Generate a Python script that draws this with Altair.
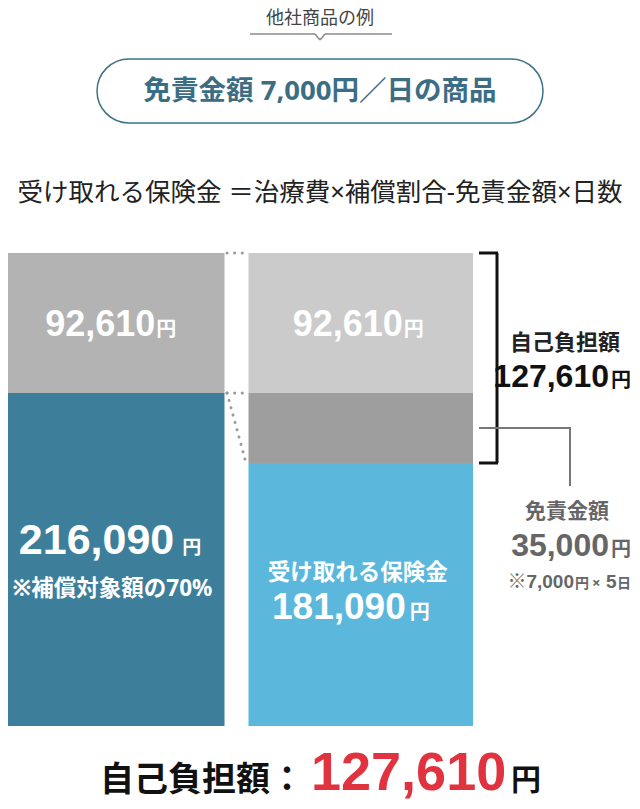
import altair as alt
import pandas as pd

# ---------------- data ----------------
bars = ["治療費の内訳", "保険金の内訳"]
seg_bar = [bars[0], bars[0], bars[1], bars[1], bars[1]]
seg_key = ["補償対象額", "自己負担（左）", "受け取れる保険金", "免責金額", "自己負担（右）"]
seg_value = [216090, 92610, 181090, 35000, 92610]
seg_order = [0, 1, 0, 1, 2]
seg_colors = ["#3d7f9b", "#b3b3b3", "#5bb8dc", "#9e9e9e", "#cbcbcb"]

daily_deductible = 7000
days = 5
benefit = 181090
deductible = daily_deductible * days
self_pay = 92610
self_total = self_pay + deductible
total = benefit + deductible + self_pay

# ---------------- derived tables ----------------
seg = pd.DataFrame({"bar": seg_bar, "key": seg_key, "value": seg_value, "order": seg_order})
seg = seg.sort_values(["bar", "order"])
seg["end"] = seg.groupby("bar")["value"].cumsum()
seg["start"] = seg["end"] - seg["value"]
seg["mid"] = (seg["start"] + seg["end"]) / 2
seg["label"] = seg["value"].map(lambda v: f"{v:,}")
seg = seg.reset_index(drop=True)

def row(key):
    return seg[seg["key"] == key].copy()

JP = "Noto Sans CJK JP"
MIX = "Noto Sans, Noto Sans CJK JP"
NUM = "Liberation Sans, Arial, Noto Sans CJK JP"

xscale = alt.Scale(domain=bars, range=[-8, 465], paddingInner=0.0966, paddingOuter=0)
yscale = alt.Scale(domain=[0, benefit, benefit + deductible, total],
                   range=[718, 455, 385, 245], nice=False, zero=False)

X = alt.X("bar:N", scale=xscale, axis=None, sort=bars)

bar_layer = alt.Chart(seg).mark_bar().encode(
    x=X,
    y=alt.Y("start:Q", scale=yscale, axis=None),
    y2="end:Q",
    color=alt.Color("key:N", scale=alt.Scale(domain=seg_key, range=seg_colors), legend=None),
)

def seg_text(key, text_field, size, dx, dy, align, baseline, font, color="white", weight="bold", text_value=None):
    enc = dict(x=X, y=alt.Y("mid:Q", scale=yscale, axis=None))
    if text_value is None:
        enc["text"] = alt.Text(f"{text_field}:N")
    else:
        enc["text"] = alt.value(text_value)
    return alt.Chart(row(key)).mark_text(
        fontSize=size, dx=dx, dy=dy, align=align, baseline=baseline,
        font=font, color=color, fontWeight=weight
    ).encode(**enc)

labels = [
    seg_text("自己負担（左）", "label", 36, 43, 13, "right", "alphabetic", NUM),
    seg_text("自己負担（左）", None, 20, 44, 13, "left", "alphabetic", JP, text_value="円"),
    seg_text("自己負担（右）", "label", 36, 42, 13, "right", "alphabetic", NUM),
    seg_text("自己負担（右）", None, 20, 43, 13, "left", "alphabetic", JP, text_value="円"),
    seg_text("補償対象額", "label", 43, 62, -15, "right", "alphabetic", NUM),
    seg_text("補償対象額", None, 19, 70, -15, "left", "alphabetic", JP, text_value="円"),
    seg_text("補償対象額", None, 22.5, 0, 20, "center", "middle", MIX, text_value="※補償対象額の70%"),
    seg_text("受け取れる保険金", None, 22.5, -3, -22, "center", "middle", JP, text_value="受け取れる保険金"),
    seg_text("受け取れる保険金", "label", 37, 45, 24, "right", "alphabetic", NUM),
    seg_text("受け取れる保険金", None, 20, 49, 24, "left", "alphabetic", JP, text_value="円"),
]

# ---------------- decorations ----------------
def vrule(x1, x2, y1, y2, color, width, dash=None, cap="butt"):
    kw = dict(color=color, strokeWidth=width, strokeCap=cap)
    if dash:
        kw["strokeDash"] = dash
    return alt.Chart(seg.head(1)).mark_rule(**kw).encode(
        x=alt.value(x1), x2=alt.value(x2), y=alt.value(y1), y2=alt.value(y2))

def drule(x1, x2, d1, d2, color, width, dash=None, cap="butt"):
    kw = dict(color=color, strokeWidth=width, strokeCap=cap)
    if dash:
        kw["strokeDash"] = dash
    return alt.Chart(seg.head(1)).mark_rule(**kw).encode(
        x=alt.value(x1), x2=alt.value(x2),
        y=alt.YDatum(d1, type="quantitative", scale=yscale, axis=None),
        y2=alt.Y2Datum(d2))

decor = [
    # header line with notch
    vrule(242, 307, 26, 26, "#8a8a8a", 1.5),
    vrule(307, 312, 26, 32, "#8a8a8a", 1.5),
    vrule(312, 317, 32, 26, "#8a8a8a", 1.5),
    vrule(317, 384, 26, 26, "#8a8a8a", 1.5),
    # dotted connectors
    drule(219, 238, total, total, "#9a9a9a", 3, [0.1, 7.5], "round"),
    drule(219, 238, benefit + deductible, benefit + deductible, "#9a9a9a", 3, [0.1, 7.5], "round"),
    drule(219, 238, benefit + deductible, benefit, "#9a9a9a", 3, [0.1, 7.5], "round"),
    # bracket
    drule(471, 490, total, total, "#111111", 3),
    drule(489, 489, total, benefit, "#111111", 3),
    drule(471, 490, benefit, benefit, "#111111", 3),
    # deductible pointer
    drule(471, 563, benefit + deductible / 2, benefit + deductible / 2, "#777777", 2),
    alt.Chart(seg.head(1)).mark_rule(color="#777777", strokeWidth=2).encode(
        x=alt.value(562), x2=alt.value(562),
        y=alt.YDatum(benefit + deductible / 2, type="quantitative", scale=yscale, axis=None),
        y2=alt.value(478)),
]

pill = alt.Chart(seg.head(1)).mark_rect(
    cornerRadius=32, fill="white", stroke="#3d7188", strokeWidth=1.5
).encode(x=alt.value(89), x2=alt.value(535), y=alt.value(51), y2=alt.value(115))

def ftext(x, y, text, size, align="center", baseline="middle", font=JP, color="#222222", weight="normal"):
    return alt.Chart(seg.head(1)).mark_text(
        fontSize=size, align=align, baseline=baseline, font=font, color=color, fontWeight=weight
    ).encode(x=alt.value(x), y=alt.value(y), text=alt.value(text))

texts = [
    ftext(312, 2, "他社商品の例", 18, baseline="top", color="#444444"),
    ftext(312, 84, f"免責金額 {daily_deductible:,}円／日の商品", 27.5, font=MIX, color="#3b6e84", weight="bold"),
    ftext(312, 185, "受け取れる保険金 ＝治療費×補償割合-免責金額×日数", 25.5, font=MIX, color="#222222"),
    ftext(557, 335, "自己負担額", 22, color="#222222", weight="bold"),
    ftext(601, 379, f"{self_total:,}", 32, align="right", baseline="alphabetic", font=NUM, color="#111111", weight="bold"),
    ftext(603, 379, "円", 20, align="left", baseline="alphabetic", color="#111111", weight="bold"),
    ftext(559, 504, "免責金額", 21, color="#666666", weight="bold"),
    ftext(601, 548, f"{deductible:,}", 32, align="right", baseline="alphabetic", font=NUM, color="#666666", weight="bold"),
    ftext(603, 548, "円", 20, align="left", baseline="alphabetic", color="#666666", weight="bold"),
    ftext(566, 580, f"※{daily_deductible:,}", 19, align="right", baseline="alphabetic", font=NUM, color="#666666", weight="bold"),
    ftext(567, 580, "円", 14, align="left", baseline="alphabetic", color="#666666", weight="bold"),
    ftext(584, 580, "×", 15, align="left", baseline="alphabetic", font=MIX, color="#666666", weight="bold"),
    ftext(598, 580, f"{days}", 19, align="left", baseline="alphabetic", font=NUM, color="#666666", weight="bold"),
    ftext(609, 580, "日", 14, align="left", baseline="alphabetic", color="#666666", weight="bold"),
    ftext(92, 783, "自己負担額：", 34, align="left", baseline="alphabetic", color="#111111", weight="bold"),
    ftext(303, 782, f"{self_total:,}", 54, align="left", baseline="alphabetic", font=NUM, color="#e0323f", weight="bold"),
    ftext(503, 782, "円", 30, align="left", baseline="alphabetic", color="#111111", weight="bold"),
]

chart = alt.layer(bar_layer, pill, *decor, *labels, *texts).properties(
    width=624, height=793,
    autosize=alt.AutoSizeParams(type="none"),
    padding=0,
    background="white",
).configure_view(strokeWidth=0)

chart.save("out.html", embed_options={"renderer": "svg", "actions": False})
